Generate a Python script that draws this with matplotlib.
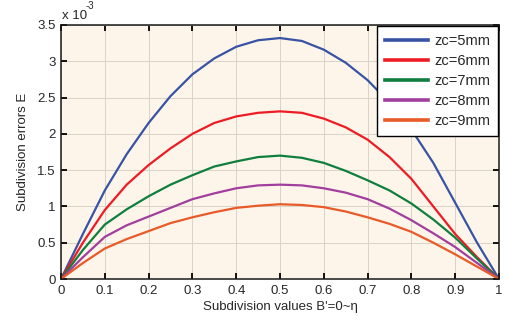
import matplotlib
matplotlib.use("Agg")
import matplotlib.pyplot as plt
import numpy as np

plt.rcParams['font.family'] = ['Liberation Sans', 'DejaVu Sans']

# subdivision values B'
b_vals = [0, 0.05, 0.1, 0.15, 0.2, 0.25, 0.3, 0.35, 0.4, 0.45, 0.5,
          0.55, 0.6, 0.65, 0.7, 0.75, 0.8, 0.85, 0.9, 0.95, 1.0]

# subdivision errors E (x 1e-3)
err_zc5 = [0, 0.62, 1.22, 1.72, 2.15, 2.52, 2.82, 3.04, 3.2, 3.29, 3.32,
           3.28, 3.16, 2.98, 2.74, 2.43, 2.06, 1.6, 1.05, 0.5, 0]
err_zc6 = [0, 0.5, 0.95, 1.3, 1.57, 1.8, 2.0, 2.15, 2.24, 2.29, 2.31,
           2.29, 2.21, 2.09, 1.92, 1.68, 1.38, 1.0, 0.62, 0.3, 0]
err_zc7 = [0, 0.4, 0.75, 0.96, 1.14, 1.3, 1.43, 1.55, 1.62, 1.68, 1.7,
           1.67, 1.6, 1.49, 1.36, 1.22, 1.04, 0.82, 0.57, 0.28, 0]
err_zc8 = [0, 0.3, 0.58, 0.74, 0.86, 0.98, 1.1, 1.18, 1.25, 1.29, 1.3,
           1.29, 1.25, 1.19, 1.1, 0.97, 0.81, 0.63, 0.44, 0.22, 0]
err_zc9 = [0, 0.22, 0.42, 0.55, 0.66, 0.77, 0.85, 0.92, 0.98, 1.01, 1.03,
           1.02, 0.99, 0.93, 0.85, 0.76, 0.65, 0.5, 0.34, 0.17, 0]

labels = ['zc=5mm', 'zc=6mm', 'zc=7mm', 'zc=8mm', 'zc=9mm']
colors = ['#3953a4', '#ed1c24', '#0e7f3e', '#a23e9e', '#e85a28']
text_col = '#262626'

fig = plt.figure(figsize=(5.08, 3.24), dpi=100)
ax = fig.add_axes([61 / 508, 45 / 324, 438 / 508, 254 / 324])
ax.set_facecolor('#fdf5ea')

for ys, lab, col in zip([err_zc5, err_zc6, err_zc7, err_zc8, err_zc9], labels, colors):
    ax.plot(b_vals, ys, color=col, lw=1.6, label=lab)

ax.set_xlim(0, 1)
ax.set_ylim(0, 3.5)
ax.set_xticks(np.arange(0, 1.01, 0.1))
ax.set_xticklabels(['0', '0.1', '0.2', '0.3', '0.4', '0.5', '0.6', '0.7', '0.8', '0.9', '1'])
ax.set_yticks(np.arange(0, 3.51, 0.5))
ax.set_yticklabels(['0', '0.5', '1', '1.5', '2', '2.5', '3', '3.5'])
ax.grid(True, color='#d9d2c6', lw=0.7)
ax.tick_params(direction='in', top=True, right=True, length=4, width=1.3,
               labelsize=9.5, colors='black', labelcolor=text_col, pad=4)
for sp in ax.spines.values():
    sp.set_linewidth(1.1)
    sp.set_color('#1a1a1a')

ax.set_xlabel("Subdivision values B'=0~\u03b7", fontsize=9.5, labelpad=3, color=text_col)
ax.set_ylabel('Subdivision errors E', fontsize=9.5, labelpad=6, color=text_col)

# MATLAB style exponent label
fig.text(62 / 508, 1 - 19 / 324, 'x 10', fontsize=9.5, ha='left', va='baseline', color=text_col)
fig.text(86 / 508, 1 - 9 / 324, '-3', fontsize=7, ha='left', va='baseline', color=text_col)

leg = ax.legend(loc='upper right', fontsize=10.5, frameon=True, fancybox=False,
                edgecolor='black', framealpha=1, borderaxespad=0.1,
                handlelength=3.0, handletextpad=0.4, labelspacing=0.42,
                borderpad=0.5)
leg.get_frame().set_linewidth(1.0)
for line in leg.get_lines():
    line.set_linewidth(2.6)
for t in leg.get_texts():
    t.set_color(text_col)

fig.savefig('out.png', dpi=100)
